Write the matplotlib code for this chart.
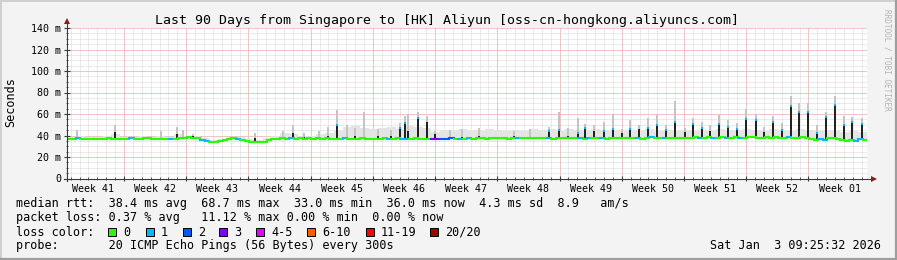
"""
SmokePing style latency graph: 90 days, Singapore -> Aliyun HK.
Values were read by eye from the reference rrdtool image.
"""
import numpy as np
import matplotlib
matplotlib.use("Agg")
import matplotlib.pyplot as plt
from matplotlib.collections import LineCollection
from matplotlib.patches import Rectangle
from matplotlib.lines import Line2D

W, H = 897, 260
plt.rcParams["font.family"] = ["DejaVu Sans Mono", "DejaVu Sans"]

# ---------------- data ----------------
title = "Last 90 Days from Singapore to [HK] Aliyun [oss-cn-hongkong.aliyuncs.com]"
span_days = 90
first_week_line = 6.41          # days after graph start of the first week boundary
week_labels = ["Week 41", "Week 42", "Week 43", "Week 44", "Week 45", "Week 46",
               "Week 47", "Week 48", "Week 49", "Week 50", "Week 51", "Week 52",
               "Week 01"]
y_ticks = [0, 20, 40, 60, 80, 100, 120, 140]
y_tick_labels = ["0", "20 m", "40 m", "60 m", "80 m", "100 m", "120 m", "140 m"]

# median rtt (ms), one value per 12 h, one row per week
median_ms = [
    37.0, 37.0, 38.0, 37.0, 36.5, 37.0, 37.0, 36.5, 37.0, 37.5, 37.0, 36.5, 37.0, 37.0,
    37.5, 37.0, 37.0, 38.0, 37.5, 37.0, 36.5, 37.0, 37.0, 36.5, 37.0, 37.5, 38.0, 39.0,
    38.0, 37.5, 35.5, 34.5, 34.0, 34.0, 34.5, 35.5, 37.0, 37.5, 37.0, 36.0, 34.5, 34.0,
    33.5, 34.0, 34.0, 35.5, 37.0, 37.0, 37.5, 37.0, 37.5, 37.0, 38.0, 37.0, 37.5, 37.0,
    37.5, 37.0, 38.0, 37.0, 36.5, 37.0, 37.5, 37.0, 36.5, 37.0, 37.5, 37.0, 37.0, 36.5,
    37.0, 37.5, 36.5, 37.0, 37.5, 37.0, 36.5, 37.0, 37.5, 37.0, 37.0, 36.5, 37.0, 37.0,
    37.0, 37.0, 37.5, 37.0, 36.5, 37.0, 37.5, 37.0, 37.5, 37.5, 37.0, 37.5, 37.5, 37.5,
    37.5, 37.0, 37.5, 38.0, 37.5, 37.5, 38.0, 37.5, 37.5, 37.5, 38.0, 37.0, 37.5, 38.0,
    38.0, 37.5, 38.0, 37.5, 37.0, 38.0, 38.0, 37.5, 38.0, 37.0, 38.0, 38.0, 37.5, 38.0,
    38.0, 37.5, 38.0, 37.0, 38.0, 38.5, 38.0, 37.5, 38.0, 37.5, 38.0, 38.0, 37.5, 38.0,
    38.0, 38.5, 38.0, 38.0, 38.5, 38.0, 38.0, 38.5, 38.0, 38.0, 38.5, 38.0, 38.0, 38.5,
    38.5, 38.0, 38.0, 38.5, 38.0, 38.5, 38.0, 38.0, 38.5, 38.0, 38.0, 38.5, 37.5, 37.0,
    35.5, 37.0, 36.0, 37.5, 38.0, 37.0, 36.0, 34.5, 36.0, 35.0, 37.0, 35.5,
]
# lost pings per 12 h sample (index into loss_colors)
loss_idx = [
    0, 0, 1, 0, 0, 0, 0, 0, 0, 0, 0, 0, 0, 0,
    1, 0, 0, 0, 0, 0, 0, 0, 0, 1, 0, 0, 0, 0,
    0, 0, 1, 1, 0, 0, 0, 0, 0, 0, 1, 0, 0, 0,
    0, 0, 0, 0, 0, 0, 0, 0, 1, 0, 0, 0, 0, 0,
    0, 0, 0, 0, 0, 0, 1, 0, 0, 0, 0, 0, 0, 0,
    0, 0, 1, 0, 0, 1, 1, 0, 0, 0, 0, 0, 3, 3,
    2, 2, 2, 0, 1, 0, 1, 0, 0, 0, 0, 0, 0, 0,
    0, 0, 0, 1, 0, 0, 0, 0, 0, 0, 1, 0, 0, 0,
    0, 0, 0, 1, 0, 1, 0, 0, 1, 0, 0, 0, 0, 0,
    0, 0, 1, 0, 0, 1, 0, 0, 1, 0, 0, 0, 0, 0,
    0, 0, 1, 0, 0, 1, 0, 0, 1, 0, 0, 1, 0, 0,
    0, 0, 0, 0, 0, 0, 0, 0, 1, 0, 0, 0, 0, 0,
    0, 1, 1, 0, 0, 0, 0, 0, 0, 1, 1, 0,
]
# upper edge of the light smoke, one value per day
haze_top_ms = [
    39, 40, 39, 39, 40, 41, 39,
    39, 40, 39, 40, 39, 41, 40,
    40, 38, 36, 37, 39, 39, 37,
    36, 38, 40, 42, 41, 40, 40,
    41, 42, 44, 48, 49, 47, 46,
    47, 48, 46, 49, 48, 47, 43,
    45, 44, 46, 45, 44, 46, 45,
    44, 45, 44, 46, 45, 46, 44,
    46, 45, 44, 46, 45, 44, 45,
    44, 45, 46, 44, 45, 44, 45,
    44, 45, 44, 46, 45, 44, 46,
    45, 44, 46, 45, 44, 46, 45,
    44, 45, 44, 43, 44, 43,
]
# latency spikes: position (days), dark core top, smoke top, loss at top
spike_day = [1.12, 5.40, 10.57, 12.37, 13.05, 14.17, 21.15, 24.30, 25.42, 26.66,
             28.35, 29.36, 30.37, 31.50, 32.40, 33.41, 34.99, 36.45, 37.46, 38.02,
             38.36, 39.49, 40.50, 41.40, 43.09, 44.44, 46.35, 50.29, 52.09, 54.23,
             55.35, 56.36, 57.49, 58.27, 59.29, 60.41, 61.42, 62.44, 63.34, 64.35,
             65.36, 66.37, 67.39, 68.40, 69.52, 70.42, 71.44, 72.34, 73.35, 74.36,
             75.37, 76.39, 77.51, 78.41, 79.42, 80.43, 81.45, 82.35, 83.36, 84.37,
             85.38, 86.40, 87.41, 88.31, 89.43]
spike_median_ms = [39, 43, 38, 41, 38, 40, 38, 38, 42, 39,
                   38, 40, 50, 38, 40, 39, 40, 40, 47, 52,
                   44, 56, 53, 41, 39, 39, 40, 40, 39, 44,
                   45, 40, 42, 47, 44, 44, 46, 42, 46, 46,
                   47, 50, 45, 53, 43, 51, 47, 44, 51, 48,
                   46, 55, 54, 43, 53, 45, 67, 62, 62, 42,
                   57, 68, 50, 53, 51]
spike_smoke_ms = [45, 50, 44, 48, 45, 41, 42, 44, 50, 42,
                  44, 48, 64, 50, 47, 62, 46, 45, 52, 58,
                  60, 62, 58, 44, 45, 46, 47, 44, 46, 48,
                  62, 47, 56, 51, 50, 53, 60, 46, 54, 50,
                  56, 59, 50, 72, 47, 56, 53, 50, 59, 54,
                  52, 65, 60, 48, 58, 52, 77, 70, 70, 50,
                  62, 77, 58, 57, 56]
spike_loss = [0, 0, 0, 0, 0, 0, 0, 0, 0, 0,
              0, 0, 1, 0, 0, 0, 0, 0, 1, 1,
              0, 1, 0, 0, 0, 0, 0, 0, 0, 1,
              1, 0, 1, 1, 0, 1, 1, 0, 1, 0,
              1, 1, 1, 1, 0, 1, 1, 0, 1, 1,
              1, 1, 1, 0, 1, 1, 1, 1, 1, 1,
              1, 1, 1, 1, 1]

loss_labels = ["0", "1", "2", "3", "4-5", "6-10", "11-19", "20/20"]
loss_colors = ["#26ff00", "#00b8ff", "#0059ff", "#7e00ff",
               "#dd00ff", "#ff5e00", "#ff0000", "#a10000"]

stats_rtt = "median rtt:  38.4 ms avg  68.7 ms max  33.0 ms min  36.0 ms now  4.3 ms sd  8.9   am/s"
stats_loss = "packet loss: 0.37 % avg   11.12 % max 0.00 % min  0.00 % now"
probe_line = "probe:       20 ICMP Echo Pings (56 Bytes) every 300s"
stamp = "Sat Jan  3 09:25:32 2026"

# ---------------- figure ----------------
fig = plt.figure(figsize=(W / 100, H / 100), dpi=100, facecolor="#f3f3f3")
ax = fig.add_axes([67 / W, (H - 178.5) / H, 800 / W, 150.5 / H])
ax.set_facecolor("white")
ax.set_xlim(0, span_days)
ax.set_ylim(0, 140)
for s in ax.spines.values():
    s.set_visible(False)

# grid
day_lines = np.arange(first_week_line % 1, span_days, 1.0)
week_lines = first_week_line + 7 * np.arange(12)
for d in day_lines:
    ax.axvline(d, color="#d6d6d6", lw=0.72, ls=(0, (1, 1)), zorder=0.5)
for v in range(5, 141, 5):
    ax.axhline(v, color="#d6d6d6", lw=0.72, ls=(0, (1, 1)), zorder=0.5)
for d in week_lines:
    ax.axvline(d, color="#f0a4a4", lw=0.72, ls=(0, (1, 1)), zorder=0.6)
for v in y_ticks[1:]:
    ax.axhline(v, color="#f0a4a4", lw=0.72, ls=(0, (1, 1)), zorder=0.6)

# smoke
med = np.array(median_ms)
edges = np.arange(len(med) + 1) * 0.5
haze = np.repeat(haze_top_ms, 2)[:len(med)]
ax.fill_between(edges, np.append(med, med[-1]), np.append(haze, haze[-1]),
                step="post", color="#e4e4e4", lw=0, zorder=2)

sd = np.array(spike_day)
base = med[(sd * 2).astype(int)]
ax.bar(sd, np.array(spike_smoke_ms) - base, bottom=base, width=0.26,
       color="#c4c4c4", lw=0, zorder=2.5)
ax.bar(sd, np.array(spike_median_ms) - base, bottom=base, width=0.26,
       color="#222222", lw=0, zorder=3)

# median line coloured by loss
segs, cols = [], []
for i, (m, l) in enumerate(zip(median_ms, loss_idx)):
    segs.append([(edges[i], m), (edges[i + 1], m)])
    cols.append(loss_colors[l])
    if i and loss_idx[i - 1] == l:
        segs.append([(edges[i], median_ms[i - 1]), (edges[i], m)])
        cols.append(loss_colors[l])
ax.add_collection(LineCollection(segs, colors=cols, linewidths=1.5,
                                 capstyle="projecting", zorder=4))
for d, m, l in zip(spike_day, spike_median_ms, spike_loss):
    if l:
        ax.hlines(m, d - 0.13, d + 0.13, colors=loss_colors[l], lw=1.5, zorder=5)

# axes, ticks, arrows
ax.plot([0, 0], [-2.5, 146], color="#3a3a3a", lw=0.8, clip_on=False, zorder=6)
ax.plot([-0.35, 90.5], [0, 0], color="#3a3a3a", lw=0.8, clip_on=False, zorder=6)
ax.plot(0, 146.5, marker="^", ms=4, color="#8b1a1a", mew=0, clip_on=False, zorder=7)
ax.plot(90.75, 0, marker=">", ms=4, color="#8b1a1a", mew=0, clip_on=False, zorder=7)
ax.vlines(week_lines, -2.6, 2.6, color="#3a3a3a", lw=0.8, clip_on=False, zorder=6)
ax.vlines(day_lines, -1.4, 1.4, color="#3a3a3a", lw=0.6, clip_on=False, zorder=6)

ax.set_yticks(y_ticks, y_tick_labels)
ax.set_yticks(range(0, 141, 5), minor=True)
ax.tick_params(axis="y", which="major", direction="inout", length=4, width=0.8,
               color="#3a3a3a", labelsize=7.2, pad=2)
ax.tick_params(axis="y", which="minor", direction="inout", length=2, width=0.6,
               color="#3a3a3a")
ax.set_xticks(week_lines[0] - 3.5 + 7 * np.arange(len(week_labels)), week_labels)
ax.tick_params(axis="x", which="both", length=0, labelsize=7.2, pad=4)

# texts
fig.text(447 / W, 1 - 24 / H, title, fontsize=9.5, ha="center", va="baseline")
fig.text(11 / W, 1 - 102.5 / H, "Seconds", fontsize=8.5, rotation=90,
         ha="center", va="center")
fig.text(887 / W, 1 - 60 / H, "RRDTOOL / TOBI OETIKER", fontsize=5.6,
         rotation=270, ha="center", va="center", color="#b4b4b4")

fs = 8.5
fig.text(16 / W, 1 - 207.5 / H, stats_rtt, fontsize=fs, va="baseline")
fig.text(16 / W, 1 - 221.5 / H, stats_loss, fontsize=fs, va="baseline")
fig.text(16 / W, 1 - 235.5 / H, "loss color:", fontsize=fs, va="baseline")
fig.text(16 / W, 1 - 249.5 / H, probe_line, fontsize=fs, va="baseline")
fig.text(881 / W, 1 - 249 / H, stamp, fontsize=fs, va="baseline", ha="right")

box_x = [108, 146, 183, 219, 256, 307, 366, 430]
for bx, lab, c in zip(box_x, loss_labels, loss_colors):
    fig.add_artist(Rectangle((bx / W, 1 - 236 / H), 8 / W, 8 / H,
                             facecolor=c, edgecolor="black", lw=0.7))
    fig.text((bx + 15) / W, 1 - 235.5 / H, lab, fontsize=fs, va="baseline")

# 3d frame
fig.add_artist(Line2D([0, 1], [1 - 0.5 / H] * 2, color="#cfcfcf", lw=1.4))
fig.add_artist(Line2D([0.5 / W] * 2, [0, 1], color="#cfcfcf", lw=1.4))
fig.add_artist(Line2D([1 - 1 / W] * 2, [0, 1], color="#9e9e9e", lw=1.6))
fig.add_artist(Line2D([0, 1], [1 / H] * 2, color="#9e9e9e", lw=1.6))

fig.savefig("out.png", dpi=100, facecolor=fig.get_facecolor())
